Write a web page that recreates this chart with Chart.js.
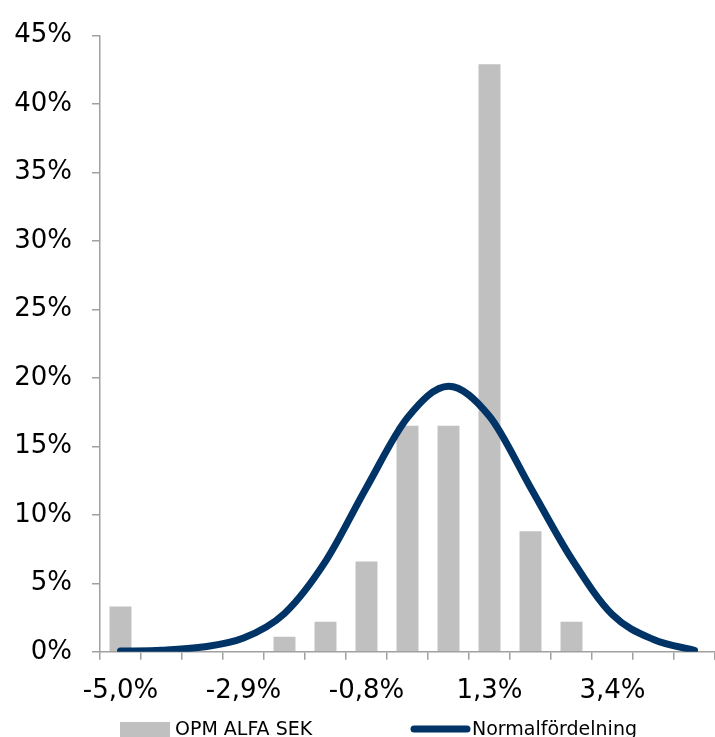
<!DOCTYPE html>
<html>
<head>
<meta charset="utf-8">
<script src="https://cdn.jsdelivr.net/npm/chart.js@4.4.0/dist/chart.umd.min.js"></script>
<style>
  html, body { margin: 0; padding: 0; background: #fff; overflow: hidden; }
  canvas { display: block; }
</style>
</head>
<body>
<canvas id="chart" width="715" height="737"></canvas>
<script>
// Kategorier (avkastningsintervall)
const categories = ['-5,0%', '-4,3%', '-3,6%', '-2,9%', '-2,2%', '-1,5%', '-0,8%', '-0,1%', '0,6%', '1,3%', '2,0%', '2,7%', '3,4%', '4,1%', '4,8%'];
// Andel utfall per intervall (%)
const fundValues = [3.3, 0, 0, 0, 1.1, 2.2, 6.6, 16.5, 16.5, 42.9, 8.8, 2.2, 0, 0, 0];
// Normalfördelning avläst vid varje intervall (%)
const normalValues = [0.05, 0.12, 0.35, 1.0, 2.8, 6.6, 12.0, 17.1, 19.4, 17.2, 12.0, 6.8, 2.7, 0.9, 0.1];
const yTicks = [0, 5, 10, 15, 20, 25, 30, 35, 40, 45];

const axisGrey = '#a0a0a0';
const navy = '#003366';
const fontFamily = '"DejaVu Sans", Verdana, sans-serif';

// Egen legend längst ner
const bottomLegend = {
    id: 'bottomLegend',
    afterDraw(chart) {
        const ctx = chart.ctx;
        const ds = chart.data.datasets;
        ctx.save();
        ctx.font = '19px ' + fontFamily;
        ctx.textBaseline = 'alphabetic';
        // stapel
        ctx.fillStyle = ds[0].backgroundColor;
        ctx.fillRect(120, 722, 50, 16);
        ctx.fillStyle = '#000';
        ctx.fillText(ds[0].label, 175, 735);
        // linje
        ctx.strokeStyle = ds[1].borderColor;
        ctx.lineWidth = 7;
        ctx.lineCap = 'round';
        ctx.beginPath();
        ctx.moveTo(414, 729);
        ctx.lineTo(467, 729);
        ctx.stroke();
        ctx.fillText(ds[1].label, 472, 735);
        ctx.restore();
    }
};

const ctx = document.getElementById('chart').getContext('2d');
new Chart(ctx, {
    type: 'bar',
    data: {
        labels: categories,
        datasets: [{
            label: 'OPM ALFA SEK',
            data: fundValues,
            backgroundColor: '#c0c0c0',
            barPercentage: 0.535,
            categoryPercentage: 1,
            order: 1
        }, {
            type: 'line',
            label: 'Normalfördelning',
            data: normalValues,
            borderColor: navy,
            borderWidth: 7,
            borderCapStyle: 'round',
            borderJoinStyle: 'round',
            pointRadius: 0,
            cubicInterpolationMode: 'monotone',
            fill: false,
            order: 0
        }]
    },
    options: {
        responsive: false,
        animation: false,
        devicePixelRatio: 1,
        layout: { padding: { top: 29.5, right: 0, bottom: 14, left: 0 } },
        plugins: {
            legend: { display: false },
            tooltip: { enabled: false }
        },
        scales: {
            x: {
                offset: true,
                grid: { display: true, offset: true, drawOnChartArea: false, color: axisGrey, tickLength: 8, lineWidth: 1.5 },
                border: { color: axisGrey, width: 1.5 },
                ticks: {
                    autoSkip: false,
                    maxRotation: 0,
                    padding: 16,
                    color: '#000',
                    font: { family: fontFamily, size: 26 },
                    callback: function(value, index) {
                        return index % 3 === 0 ? categories[index] : '';
                    }
                }
            },
            y: {
                min: yTicks[0],
                max: yTicks[yTicks.length - 1],
                afterFit: function(scale) { scale.width = 100; },
                afterBuildTicks: function(scale) {
                    scale.ticks = yTicks.map(v => ({ value: v }));
                },
                grid: { display: true, drawOnChartArea: false, color: axisGrey, tickLength: 8, lineWidth: 1.5 },
                border: { color: axisGrey, width: 1.5 },
                ticks: {
                    padding: 20,
                    color: '#000',
                    font: { family: fontFamily, size: 26 },
                    callback: function(value) { return value + '%'; }
                }
            }
        }
    },
    plugins: [bottomLegend]
});
</script>
</body>
</html>
